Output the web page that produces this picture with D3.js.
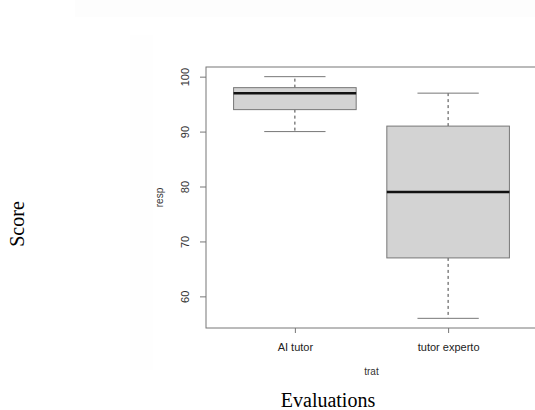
<!DOCTYPE html>
<html>
<head>
<meta charset="utf-8">
<script src="https://cdn.jsdelivr.net/npm/d3@7"></script>
<style>
	body { margin: 0; background: #fff; }
	svg { display: block; }
</style>
</head>
<body>
<div id="chart"></div>
<script>

// boxplot statistics per treatment
var categories = ["AI tutor", "tutor experto"];
var whiskerLow = [90, 56];
var lowerQuartile = [94, 67];
var median = [97, 79];
var upperQuartile = [98, 91];
var whiskerHigh = [100, 97];
var yTicks = [60, 70, 80, 90, 100];

var width = 535, height = 410;

var svg = d3.select("#chart").append("svg")
	.attr("width", width)
	.attr("height", height);

// faint leftovers of the pasted figure background
svg.append("rect")
	.attr("x", 75).attr("y", 0)
	.attr("width", 460).attr("height", 17)
	.attr("fill", "#fdfdfd");
svg.append("rect")
	.attr("x", 130).attr("y", 35)
	.attr("width", 23).attr("height", 335)
	.attr("fill", "#fefefe");

// R style: xlim = [0.5, 2.5] padded by 4%, ylim = data range padded by 4%
var yMin = d3.min(whiskerLow), yMax = d3.max(whiskerHigh);
var yPad = (yMax - yMin) * 0.04;

var x = d3.scaleLinear()
	.domain([0.5 - 0.08, categories.length + 0.5 + 0.08])
	.range([206, 537]);

var y = d3.scaleLinear()
	.domain([yMin - yPad, yMax + yPad])
	.range([328, 67]);

var boxWidth = (x(2) - x(1)) * 0.8;
var capWidth = boxWidth * 0.5;
var lineColor = "#777";

var boxes = svg.selectAll("g.box")
	.data(categories)
	.enter()
	.append("g")
		.attr("class", "box")
		.attr("transform", function(d, i){ return "translate(" + x(i + 1) + ",0)"; });

// dashed whiskers
boxes.append("line")
	.attr("x1", 0).attr("x2", 0)
	.attr("y1", function(d, i){ return y(upperQuartile[i]); })
	.attr("y2", function(d, i){ return y(whiskerHigh[i]); })
	.attr("stroke", "#444")
	.attr("stroke-dasharray", "3,3");
boxes.append("line")
	.attr("x1", 0).attr("x2", 0)
	.attr("y1", function(d, i){ return y(lowerQuartile[i]); })
	.attr("y2", function(d, i){ return y(whiskerLow[i]); })
	.attr("stroke", "#444")
	.attr("stroke-dasharray", "3,3");

// staples
[whiskerHigh, whiskerLow].forEach(function(values){
	boxes.append("line")
		.attr("x1", -capWidth / 2).attr("x2", capWidth / 2)
		.attr("y1", function(d, i){ return y(values[i]); })
		.attr("y2", function(d, i){ return y(values[i]); })
		.attr("stroke", lineColor);
});

boxes.append("rect")
	.attr("x", -boxWidth / 2)
	.attr("width", boxWidth)
	.attr("y", function(d, i){ return y(upperQuartile[i]); })
	.attr("height", function(d, i){ return y(lowerQuartile[i]) - y(upperQuartile[i]); })
	.attr("fill", "#d3d3d3")
	.attr("stroke", lineColor);

boxes.append("line")
	.attr("x1", -boxWidth / 2).attr("x2", boxWidth / 2)
	.attr("y1", function(d, i){ return y(median[i]); })
	.attr("y2", function(d, i){ return y(median[i]); })
	.attr("stroke", "#111")
	.attr("stroke-width", 2.5);

// plot frame
svg.append("rect")
	.attr("x", x.range()[0])
	.attr("y", y.range()[1])
	.attr("width", x.range()[1] - x.range()[0])
	.attr("height", y.range()[0] - y.range()[1])
	.attr("fill", "none")
	.attr("stroke", lineColor);

// axes
var yAxis = svg.append("g")
	.attr("transform", "translate(" + x.range()[0] + ",0)")
	.call(d3.axisLeft(y).tickValues(yTicks).tickSize(6).tickPadding(0));
yAxis.select(".domain").remove();
yAxis.selectAll(".tick line").attr("stroke", lineColor);
yAxis.selectAll(".tick text")
	.attr("x", 0).attr("dy", null)
	.attr("transform", "translate(-17,0) rotate(-90)")
	.attr("text-anchor", "middle")
	.attr("fill", "#333")
	.style("font", "11px 'Liberation Sans', Arial, sans-serif");

var xAxis = svg.append("g")
	.attr("transform", "translate(0," + y.range()[0] + ")")
	.call(d3.axisBottom(x)
		.tickValues(categories.map(function(d, i){ return i + 1; }))
		.tickFormat(function(d){ return categories[d - 1]; })
		.tickSize(5));
xAxis.select(".domain").remove();
xAxis.selectAll(".tick line").attr("stroke", lineColor);
xAxis.selectAll(".tick text")
	.attr("y", 23).attr("dy", null)
	.attr("fill", "#222")
	.style("font", "11px 'Liberation Sans', Arial, sans-serif");

// R axis titles
svg.append("text")
	.attr("transform", "translate(162.5," + ((y.range()[0] + y.range()[1]) / 2) + ") rotate(-90)")
	.attr("text-anchor", "middle")
	.attr("fill", "#333")
	.style("font", "10px 'Liberation Sans', Arial, sans-serif")
	.text("resp");

svg.append("text")
	.attr("x", (x.range()[0] + x.range()[1]) / 2)
	.attr("y", 375)
	.attr("text-anchor", "middle")
	.attr("fill", "#333")
	.style("font", "10px 'Liberation Sans', Arial, sans-serif")
	.text("trat");

// figure titles
svg.append("text")
	.attr("x", 328)
	.attr("y", 407)
	.attr("text-anchor", "middle")
	.attr("fill", "#000")
	.style("font", "20px 'Liberation Serif', 'Times New Roman', serif")
	.text("Evaluations");

svg.append("text")
	.attr("transform", "translate(24,224) rotate(-90)")
	.attr("text-anchor", "middle")
	.attr("fill", "#000")
	.style("font", "20px 'Liberation Serif', 'Times New Roman', serif")
	.text("Score");

</script>
</body>
</html>
